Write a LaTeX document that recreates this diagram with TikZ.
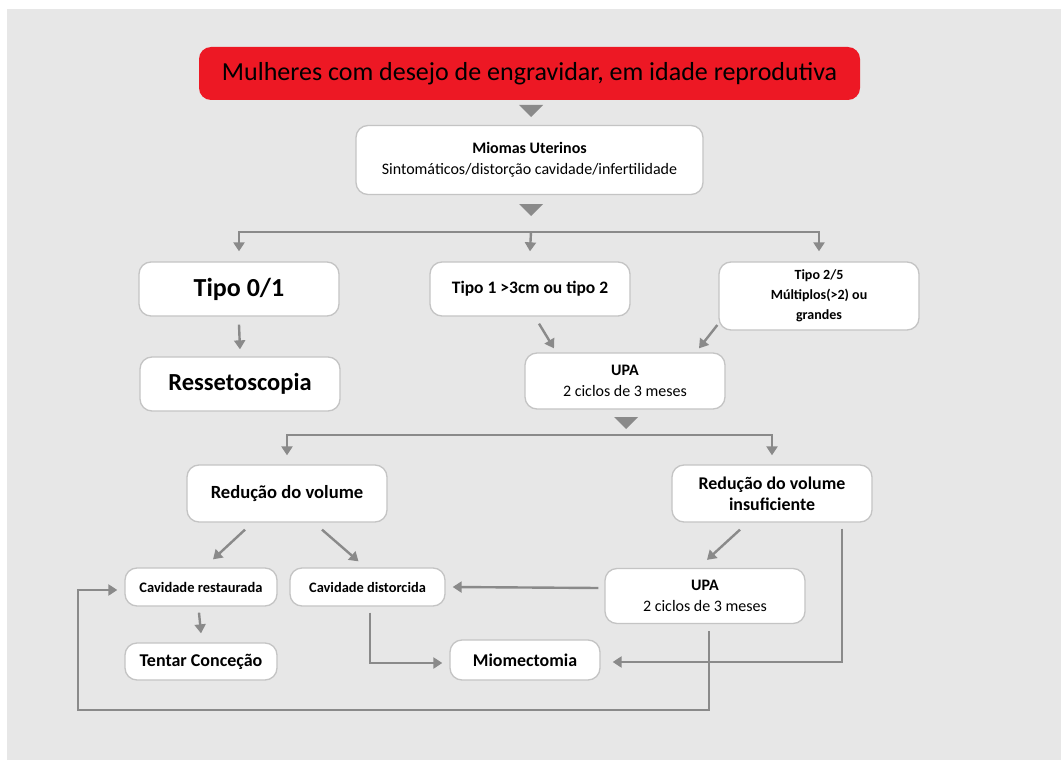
\documentclass[tikz,border=0pt]{standalone}
\usepackage{fontspec}
\setmainfont{Carlito}
\usetikzlibrary{arrows.meta}
\definecolor{bggray}{RGB}{231,231,231}
\definecolor{linegray}{RGB}{138,138,138}
\definecolor{boxline}{RGB}{196,196,196}
\definecolor{alertred}{RGB}{237,24,36}
\newcommand{\downtri}[2]{\fill[linegray] (#1-12,#2-6) -- (#1+12,#2-6) -- (#1,#2+6) -- cycle;}

\begin{document}
\begin{tikzpicture}[x=1pt,y=-1pt,
    box/.style={draw=boxline,line width=1.3pt,fill=white,rounded corners=12pt,
        align=center,inner sep=0pt,font=\bfseries},
    link/.style={draw=linegray,line width=2.4pt},
    arr/.style={link,-{Triangle[width=11pt,length=9pt]}}]
\useasboundingbox (0,0) rectangle (1061,760);
\fill[white] (0,0) rectangle (1061,760);
\fill[bggray] (7,9) rectangle (1061,760);

\node [fill=alertred,rounded corners=12pt,minimum width=661pt,minimum height=53pt,
    inner sep=0pt,font=\fontsize{26}{30}\selectfont] (mulheres) at (529.5,73.5)
    {Mulheres com desejo de engravidar, em idade reprodutiva};
\node [box,minimum width=347pt,minimum height=69pt,font=\fontsize{16}{21}\selectfont] (miomas) at (529.5,160)
    {\textbf{Miomas Uterinos}\\ Sintomáticos/distorção cavidade/infertilidade};
\node [box,minimum width=200pt,minimum height=54pt,font=\bfseries\fontsize{26}{30}\selectfont] (tipoa) at (239,289) {Tipo 0/1};
\node [box,minimum width=200pt,minimum height=54pt,font=\bfseries\fontsize{17.5}{20}\selectfont] (tipob) at (530,289) {Tipo 1 >3cm ou tipo 2};
\node [box,minimum width=200pt,minimum height=68pt,font=\bfseries\fontsize{14}{20}\selectfont] (tipoc) at (819,296) {Tipo 2/5\\ Múltiplos(>2) ou\\ grandes};
\node [box,minimum width=200pt,minimum height=54pt,font=\bfseries\fontsize{24.5}{28}\selectfont] (resseto) at (240,384) {Ressetoscopia};
\node [box,minimum width=200pt,minimum height=56pt,font=\fontsize{16}{21}\selectfont] (upa) at (625,381) {\textbf{UPA}\\ 2 ciclos de 3 meses};
\node [box,minimum width=200pt,minimum height=57pt,font=\bfseries\fontsize{18.6}{22}\selectfont] (reducao) at (287,493.5) {Redução do volume};
\node [box,minimum width=200pt,minimum height=57pt,font=\bfseries\fontsize{17.9}{21}\selectfont] (insuf) at (772,493.5) {Redução do volume\\ insuficiente};
\node [box,minimum width=152pt,minimum height=38pt,font=\bfseries\fontsize{14.5}{17}\selectfont] (restaurada) at (201,587) {Cavidade restaurada};
\node [box,minimum width=155pt,minimum height=38pt,font=\bfseries\fontsize{14.4}{17}\selectfont] (distorcida) at (367.5,587) {Cavidade distorcida};
\node [box,minimum width=200pt,minimum height=55pt,font=\fontsize{16}{21}\selectfont] (upab) at (705,596) {\textbf{UPA}\\ 2 ciclos de 3 meses};
\node [box,minimum width=152pt,minimum height=37pt,font=\bfseries\fontsize{18}{21}\selectfont] (tentar) at (201,661.5) {Tentar Conceção};
\node [box,minimum width=150pt,minimum height=40pt,font=\bfseries\fontsize{17.9}{21}\selectfont] (miomect) at (525,660) {Miomectomia};

\downtri{531}{111}
\downtri{531}{210}
\downtri{626}{423}

\coordinate (splita) at (531,232);
\coordinate (splitb) at (626,435);
\draw [arr] (splita) -| ([yshift=10pt]tipoa.north);
\draw [arr] (splita) -- ([yshift=10pt]tipob.north);
\draw [arr] (splita) -| ([yshift=10pt]tipoc.north);
\draw [arr] ([yshift=-8pt]tipoa.south) -- ([yshift=7pt]resseto.north);
\draw [arr] ([xshift=9pt,yshift=-7pt]tipob.south) -- ([xshift=-71pt,yshift=4pt]upa.north);
\draw [arr] ([xshift=-1pt,yshift=-29pt]tipoc.west) -- ([xshift=74pt,yshift=4pt]upa.north);
\draw [arr] (splitb) -| ([yshift=9pt]reducao.north);
\draw [arr] (splitb) -| ([yshift=9pt]insuf.north);
\draw [arr] ([xshift=-42pt,yshift=-7pt]reducao.south) -- ([xshift=12pt,yshift=8pt]restaurada.north);
\draw [arr] ([xshift=35pt,yshift=-7pt]reducao.south) -- ([xshift=-9pt,yshift=6pt]distorcida.north);
\draw [arr] ([xshift=-32pt,yshift=-7pt]insuf.south) -- ([xshift=2pt,yshift=8pt]upab.north);
\draw [arr] ([xshift=-6pt,yshift=8pt]upab.west) -- ([xshift=7pt]distorcida.east);
\draw [arr] ([xshift=70pt,yshift=-6pt]insuf.south) |- ([xshift=12pt,yshift=-2pt]miomect.east);
\draw [arr] ([xshift=-2pt,yshift=-6pt]restaurada.south) -- ([yshift=9pt]tentar.north);
\draw [arr] ([xshift=2.5pt,yshift=-6pt]distorcida.south) |- ([xshift=-7pt,yshift=-3pt]miomect.west);
\draw [arr] ([xshift=4pt,yshift=-7pt]upab.south) -- (709,710) -- (78,710) |- ([xshift=-7pt,yshift=-3pt]restaurada.west);
\end{tikzpicture}
\end{document}
